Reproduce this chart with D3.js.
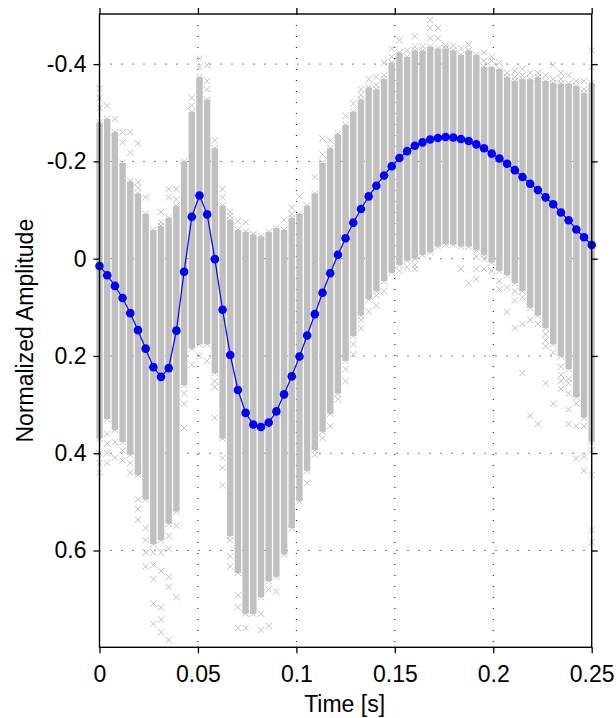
<!DOCTYPE html>
<html>
<head>
<meta charset="utf-8">
<script src="https://cdn.jsdelivr.net/npm/d3@7"></script>
<style>
  html, body { margin: 0; padding: 0; background: #fff; }
  svg { display: block; }
  text { font-family: "Liberation Sans", Arial, Helvetica, sans-serif; fill: #000; }
</style>
</head>
<body>
<svg id="chart" width="616" height="718"></svg>
<script>
// Sampling: 256 Hz, 65 samples from 0 to 0.25 s
const sampleRate = 256;
const sampleCount = 65;

// Mean normalized amplitude per sample (blue trace)
const meanAmplitude = [
  0.015, 0.034, 0.056, 0.081, 0.112, 0.147, 0.185, 0.223, 0.243, 0.225,
  0.148, 0.027, -0.086, -0.130, -0.091, 0.001, 0.105, 0.198, 0.270, 0.317,
  0.341, 0.346, 0.337, 0.314, 0.279, 0.242, 0.201, 0.158, 0.114, 0.070,
  0.030, -0.008, -0.042, -0.074, -0.102, -0.128, -0.150, -0.171, -0.190, -0.207,
  -0.221, -0.232, -0.239, -0.245, -0.248, -0.250, -0.249, -0.246, -0.242, -0.235,
  -0.227, -0.216, -0.206, -0.195, -0.182, -0.168, -0.154, -0.141, -0.126, -0.112,
  -0.095, -0.079, -0.060, -0.044, -0.028
];

// Extent of the dense cloud of single trials at each sample (low = most negative)
const trialLow = [
  -0.280, -0.287, -0.260, -0.197, -0.159, -0.134, -0.092, -0.059, -0.067, -0.084,
  -0.109, -0.200, -0.302, -0.373, -0.327, -0.227, -0.109, -0.080, -0.059, -0.055,
  -0.050, -0.046, -0.055, -0.063, -0.059, -0.084, -0.092, -0.109, -0.134, -0.197,
  -0.227, -0.256, -0.275, -0.302, -0.327, -0.352, -0.348, -0.369, -0.403, -0.424,
  -0.415, -0.428, -0.428, -0.436, -0.432, -0.432, -0.428, -0.419, -0.428, -0.419,
  -0.394, -0.394, -0.390, -0.373, -0.365, -0.369, -0.369, -0.373, -0.365, -0.361,
  -0.360, -0.360, -0.355, -0.340, -0.361
];
const trialHigh = [
  0.370, 0.330, 0.352, 0.377, 0.403, 0.445, 0.495, 0.587, 0.579, 0.545,
  0.520, 0.260, 0.185, 0.176, 0.176, 0.235, 0.370, 0.570, 0.646, 0.730,
  0.730, 0.696, 0.663, 0.654, 0.608, 0.554, 0.499, 0.436, 0.394, 0.356,
  0.319, 0.277, 0.210, 0.159, 0.117, 0.084, 0.067, 0.046, 0.029, 0.013,
  0.004, 0.000, -0.008, -0.013, -0.025, -0.029, -0.029, -0.025, -0.025, -0.017,
  -0.008, 0.008, 0.025, 0.034, 0.050, 0.067, 0.101, 0.117, 0.143, 0.176,
  0.201, 0.227, 0.285, 0.327, 0.377
];

// Isolated single-trial values outside the dense cloud, per sample
const trialOutliers = [
  [-0.35, -0.33, -0.31, 0.40, 0.42, 0.44],
  [-0.315, 0.36, 0.38, 0.40, 0.42],
  [-0.287, 0.377, 0.409],
  [-0.26, -0.239, 0.394, 0.415],
  [-0.26, -0.218, 0.42, 0.44],
  [-0.237, -0.157, -0.146, 0.495, 0.515, 0.537],
  [-0.126, 0.554, 0.579, 0.604, 0.633],
  [0.604, 0.629, 0.659, 0.709, 0.751],
  [-0.096, -0.075, 0.604, 0.642, 0.717, 0.742, 0.768],
  [-0.143, -0.126, 0.57, 0.596, 0.654, 0.675, 0.784],
  [-0.143, -0.122, 0.549, 0.696],
  [0.277, 0.298, 0.348],
  [-0.331, -0.315, 0.218],
  [-0.411, -0.394, 0.2],
  [-0.398, -0.365, -0.348, 0.21],
  [-0.243, 0.252, 0.264, 0.327],
  [-0.143, -0.126, 0.41, 0.43, 0.466],
  [-0.096, -0.088, 0.579, 0.612, 0.633],
  [-0.077, 0.692, 0.717, 0.759],
  [-0.075, 0.759],
  [],
  [0.73, 0.763],
  [0.68, 0.755],
  [0.684],
  [-0.08],
  [-0.105, -0.092],
  [-0.128],
  [0.461],
  [-0.168, 0.403],
  [-0.247, -0.214, 0.369],
  [-0.243, 0.344],
  [0.289],
  [-0.294, 0.227, 0.252],
  [-0.319, 0.176, 0.197],
  [-0.348, -0.336, 0.126, 0.143],
  [-0.369, 0.109],
  [-0.373, -0.357, 0.076, 0.096],
  [-0.403, -0.377, 0.067],
  [-0.432, -0.415],
  [-0.449, 0.025],
  [-0.428, 0.017],
  [-0.457, -0.436, 0.013, 0.021],
  [-0.436],
  [-0.491, -0.474, -0.453],
  [-0.474, -0.453],
  [-0.438],
  [-0.438],
  [-0.432, 0.021],
  [-0.44, 0.05],
  [-0.004, 0.021, 0.042],
  [-0.424, -0.407, 0.0, 0.021],
  [-0.415, -0.407, 0.025],
  [-0.403, 0.046, 0.063],
  [-0.382, 0.059, 0.109],
  [-0.386, -0.373, 0.067, 0.086, 0.143],
  [-0.39, -0.377, 0.08, 0.134, 0.235],
  [-0.382, 0.126, 0.323],
  [-0.382, 0.134, 0.34],
  [-0.377, 0.155, 0.168, 0.18, 0.256],
  [-0.398, -0.369, 0.193, 0.298],
  [-0.382, -0.369, 0.222, 0.239, 0.252, 0.268],
  [-0.377, 0.247, 0.256, 0.277, 0.31, 0.34],
  [-0.365, 0.298, 0.344, 0.411],
  [-0.365, -0.348, 0.344, 0.407, 0.436],
  [-0.428, -0.394, 0.394, 0.445, 0.558, 0.583]
];

// Axis ticks and labels
const xTicks = [0, 0.05, 0.1, 0.15, 0.2, 0.25];
const xTickLabels = ["0", "0.05", "0.1", "0.15", "0.2", "0.25"];
const yTicks = [-0.4, -0.2, 0, 0.2, 0.4, 0.6];
const yTickLabels = ["-0.4", "-0.2", "0", "0.2", "0.4", "0.6"];
const xLabel = "Time [s]";
const yLabel = "Normalized Amplitude";

const times = d3.range(sampleCount).map(i => i / sampleRate);

const svg = d3.select("#chart");
const plot = { left: 99.5, right: 591.7, top: 14, bottom: 647.3 };

const x = d3.scaleLinear().domain([0, 0.25]).range([plot.left, plot.right]);
// amplitude axis runs downward: negative values on top
const y = d3.scaleLinear().domain([-0.503, 0.799]).range([plot.top, plot.bottom]);

const gray = "#c0c0c0";
const crossSize = 3.2;
const crossPath = `M${-crossSize},${-crossSize}L${crossSize},${crossSize}M${-crossSize},${crossSize}L${crossSize},${-crossSize}`;

// Dotted grid
const grid = svg.append("g").attr("stroke", "#000").attr("stroke-width", 1)
  .attr("stroke-dasharray", "1,10").attr("fill", "none");
grid.selectAll("line.gx").data(xTicks.slice(1, -1)).join("line")
  .attr("x1", d => x(d)).attr("x2", d => x(d))
  .attr("y1", plot.top).attr("y2", plot.bottom);
grid.selectAll("line.gy").data(yTicks).join("line")
  .attr("x1", plot.left).attr("x2", plot.right)
  .attr("y1", d => y(d)).attr("y2", d => y(d));

svg.append("clipPath").attr("id", "plotclip").append("rect")
  .attr("x", plot.left - 4).attr("y", plot.top)
  .attr("width", plot.right - plot.left + 8).attr("height", plot.bottom - plot.top);

const trials = svg.append("g").attr("clip-path", "url(#plotclip)");

// Dense trial clouds
trials.selectAll("rect.band").data(times).join("rect")
  .attr("class", "band")
  .attr("x", d => x(d) - crossSize)
  .attr("width", crossSize * 2)
  .attr("y", (d, i) => y(trialLow[i]))
  .attr("height", (d, i) => y(trialHigh[i]) - y(trialLow[i]))
  .attr("fill", gray);

// Crosses at cloud edges and isolated trials
const crossPts = [];
times.forEach((t, i) => {
  crossPts.push([t, trialLow[i]], [t, trialHigh[i]]);
  trialOutliers[i].forEach(v => crossPts.push([t, v]));
});
trials.selectAll("path.cross").data(crossPts).join("path")
  .attr("class", "cross")
  .attr("transform", d => `translate(${x(d[0])},${y(d[1])})`)
  .attr("d", crossPath)
  .attr("stroke", gray).attr("stroke-width", 1).attr("fill", "none");

// Mean trace
const line = d3.line().x((d, i) => x(times[i])).y(d => y(d));
svg.append("path").datum(meanAmplitude)
  .attr("d", line).attr("fill", "none")
  .attr("stroke", "#0000ff").attr("stroke-width", 1.2);
svg.append("g").selectAll("circle").data(meanAmplitude).join("circle")
  .attr("cx", (d, i) => x(times[i])).attr("cy", d => y(d))
  .attr("r", 4.3).attr("fill", "#0000ff");

// Axes (ticks outward on all four sides)
const tickLen = 6;
const bottomAxis = d3.axisBottom(x).tickValues(xTicks).tickFormat((d, i) => xTickLabels[i])
  .tickSizeInner(tickLen).tickSizeOuter(0).tickPadding(12);
const topAxis = d3.axisTop(x).tickValues(xTicks).tickFormat("").tickSizeInner(tickLen).tickSizeOuter(0);
const leftAxis = d3.axisLeft(y).tickValues(yTicks).tickFormat((d, i) => yTickLabels[i])
  .tickSizeInner(tickLen).tickSizeOuter(0).tickPadding(7);
const rightAxis = d3.axisRight(y).tickValues(yTicks).tickFormat("").tickSizeInner(tickLen).tickSizeOuter(0);

function styleAxis(g) {
  g.select(".domain").remove();
  g.selectAll(".tick line").attr("stroke", "#000").attr("stroke-width", 1.3);
  g.selectAll(".tick text").attr("font-family", "Liberation Sans, Arial, sans-serif")
    .attr("font-size", 23).attr("fill", "#000");
}
svg.append("g").attr("transform", `translate(0,${plot.bottom})`).call(bottomAxis).call(styleAxis);
svg.append("g").attr("transform", `translate(0,${plot.top})`).call(topAxis).call(styleAxis);
svg.append("g").attr("transform", `translate(${plot.left},0)`).call(leftAxis).call(styleAxis);
svg.append("g").attr("transform", `translate(${plot.right},0)`).call(rightAxis).call(styleAxis);

// Frame
svg.append("rect")
  .attr("x", plot.left).attr("y", plot.top)
  .attr("width", plot.right - plot.left).attr("height", plot.bottom - plot.top)
  .attr("fill", "none").attr("stroke", "#000").attr("stroke-width", 1.4);

// Axis titles
svg.append("text")
  .attr("x", (plot.left + plot.right) / 2 - 1).attr("y", 712)
  .attr("text-anchor", "middle").attr("font-size", 23)
  .text(xLabel);
svg.append("text")
  .attr("transform", `translate(33,${(plot.top + plot.bottom) / 2}) rotate(-90)`)
  .attr("text-anchor", "middle").attr("font-size", 23)
  .text(yLabel);
</script>
</body>
</html>
